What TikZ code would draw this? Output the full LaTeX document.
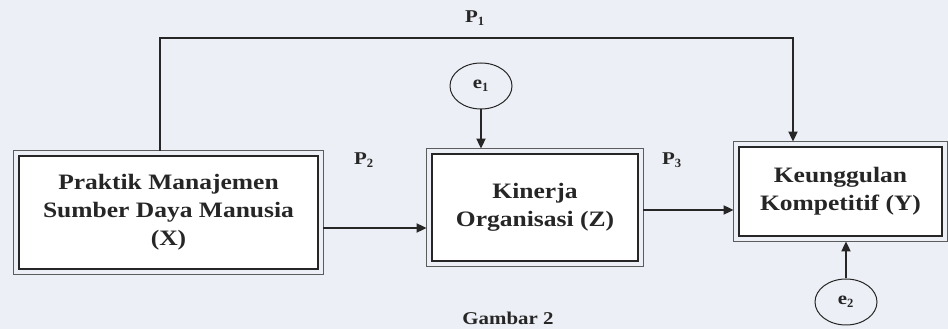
\documentclass[tikz,border=0pt]{standalone}
\usepackage{fontspec}
\setmainfont{Liberation Serif}
\newfontfamily\boxfont[FakeStretch=1.16]{Liberation Serif}
\usetikzlibrary{arrows.meta,shapes.geometric}
\definecolor{bg}{RGB}{236,239,245}
\definecolor{ink}{RGB}{38,38,38}
\begin{document}
\begin{tikzpicture}[x=1pt,y=1pt,
  varbox/.style={draw=ink, line width=2.8pt, fill=white,
    align=center, font=\boxfont\fontsize{22}{28}\selectfont\bfseries, text=ink, inner sep=0pt},
  outerline/.style={draw=ink!75, line width=1pt},
  errc/.style={ellipse, draw=ink, line width=1pt, minimum width=62pt, minimum height=46pt, inner sep=0pt,
    font=\boxfont\fontsize{18}{20}\selectfont\bfseries, text=ink},
  conn/.style={draw=ink, line width=1.8pt, -{Triangle[length=10pt,width=9pt]}},
  lbl/.style={font=\boxfont\fontsize{18}{20}\selectfont\bfseries, text=ink}
]
\fill[bg] (0,0) rectangle (948,329);
\useasboundingbox (0,0) rectangle (948,329);
\node[varbox, minimum width=299pt, minimum height=113pt] (X) at (168.5,116.5) {Praktik Manajemen\\Sumber Daya Manusia\\(X)};
\node[varbox, minimum width=206pt, minimum height=107pt] (Z) at (535,121.5) {Kinerja\\Organisasi (Z)};
\node[varbox, minimum width=203pt, minimum height=89pt] (Y) at (840.5,137.5) {Keunggulan\\Kompetitif (Y)};
\foreach \b in {X,Z,Y}
  \draw[outerline] ([shift={(-4pt,-4pt)}]\b.south west) rectangle ([shift={(4pt,4pt)}]\b.north east);
\node[errc] (e1) at (481,243) {e$_{\mathbf 1}$};
\node[errc] (e2) at (846,27) {e$_{\mathbf 2}$};
\coordinate (c1) at (160,291);
\coordinate (c2) at (793,291);
\draw[conn, shorten >=4pt] ([yshift=4pt]X.north -| c1) -- (c1) -- (c2) -- (Y.north -| c2);
\draw[conn, shorten >=4pt] (e1) -- (Z.north -| e1);
\draw[conn, shorten >=4pt] (e2) -- (Y.south -| e2);
\draw[conn, shorten >=4pt] ([xshift=4pt]X.east |- 0,101) -- (Z.west |- 0,101);
\draw[conn, shorten >=4pt] ([xshift=4pt]Z.east |- 0,119) -- (Y.west |- 0,119);
\node[lbl] (p1) at (475,311) {P$_{\mathbf 1}$};
\node[lbl] (p2) at (364,169) {P$_{\mathbf 2}$};
\node[lbl] (p3) at (672,169) {P$_{\mathbf 3}$};
\node[lbl, anchor=base, font=\boxfont\fontsize{18}{20}\selectfont\bfseries] (cap) at (508,4) {Gambar 2};
\end{tikzpicture}
\end{document}
